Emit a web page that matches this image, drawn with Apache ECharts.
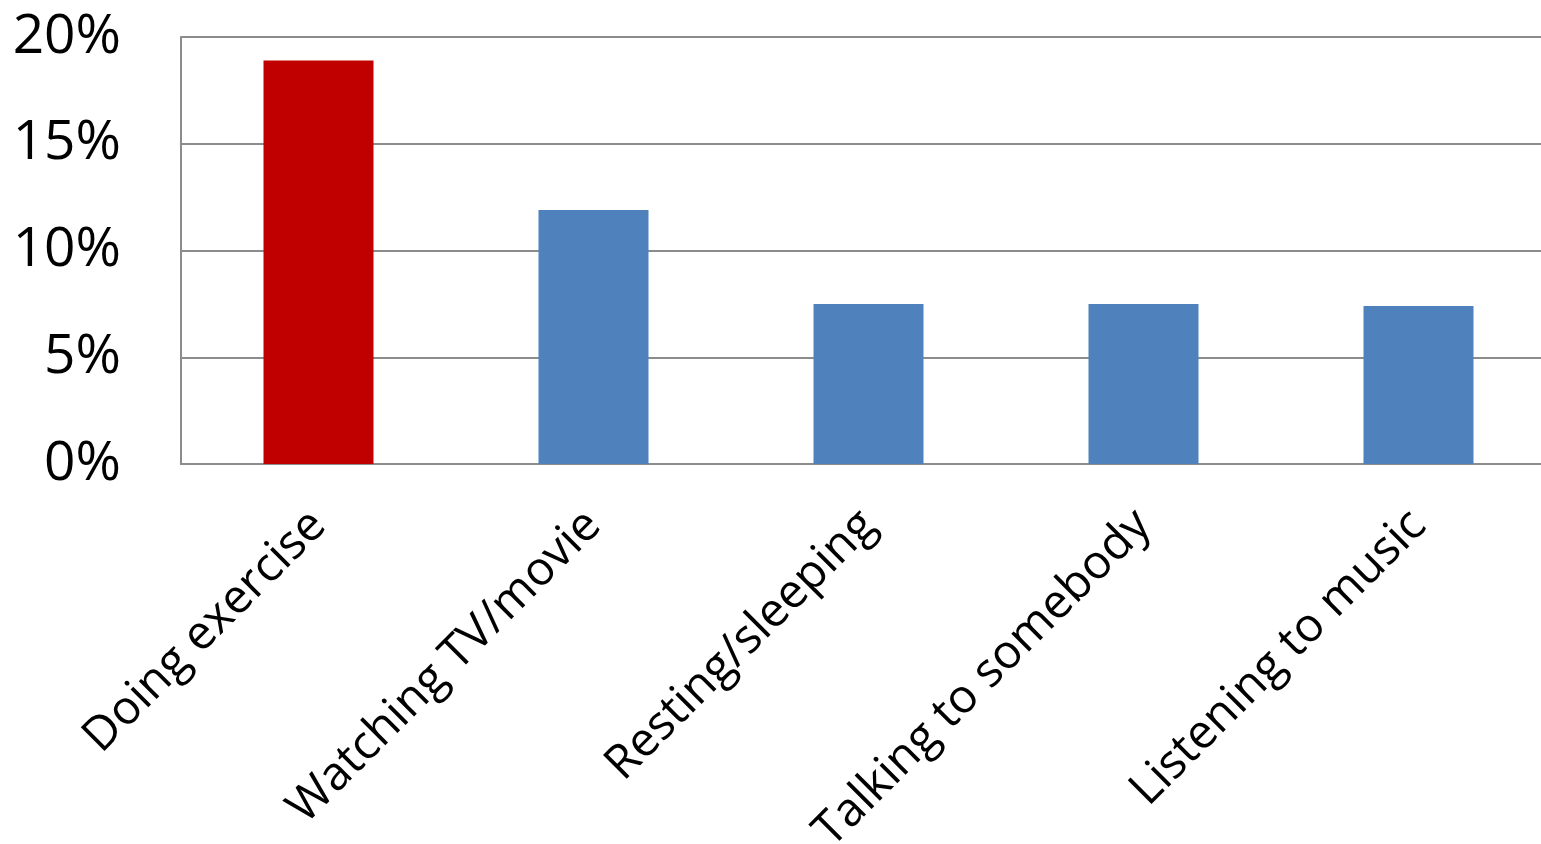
<!DOCTYPE html>
<html>
<head>
<meta charset="UTF-8">
<title>Echarts</title>
<script src="https://cdn.jsdelivr.net/npm/echarts@6/dist/echarts.min.js"></script>
</head>
<body style="margin:0;">
	<div id="main" style="width:1541px;height:844px;"></div>
	<script type="text/javascript">
		var categories = ['Doing exercise', 'Watching TV/movie', 'Resting/sleeping', 'Talking to somebody', 'Listening to music'];
		var values = [18.9, 11.9, 7.5, 7.5, 7.4];
		var barColors = ['#C00000', '#4F81BD', '#4F81BD', '#4F81BD', '#4F81BD'];
		var yTicks = [0, 5, 10, 15, 20];

		var myChart = echarts.init(document.getElementById('main'));
		var option = {
			animation: false,
			textStyle: { fontFamily: 'Open Sans' },
			grid: { left: 181, right: -15, top: 37, bottom: 380, outerBoundsMode: 'none' },
			xAxis: {
				type: 'category',
				data: categories,
				axisLine: { lineStyle: { color: '#8c8c8c', width: 2 } },
				axisTick: { show: false },
				axisLabel: {
					rotate: 45,
					interval: 0,
					margin: 54,
					fontSize: 47,
					color: '#000',
					fontFamily: 'Open Sans'
				}
			},
			yAxis: {
				type: 'value',
				min: yTicks[0],
				max: yTicks[yTicks.length - 1],
				interval: 5,
				axisLine: { show: true, lineStyle: { color: '#8c8c8c', width: 2 } },
				axisTick: { show: false },
				splitLine: { lineStyle: { color: '#8c8c8c', width: 2 } },
				axisLabel: {
					formatter: '{value}%',
					margin: 60,
					fontSize: 55,
					color: '#000',
					fontFamily: 'Open Sans'
				}
			},
			series: [{
				type: 'bar',
				barWidth: '40%',
				data: values.map(function (v, i) {
					return { value: v, itemStyle: { color: barColors[i] } };
				})
			}]
		};
		myChart.setOption(option);
	</script>
</body>
</html>
